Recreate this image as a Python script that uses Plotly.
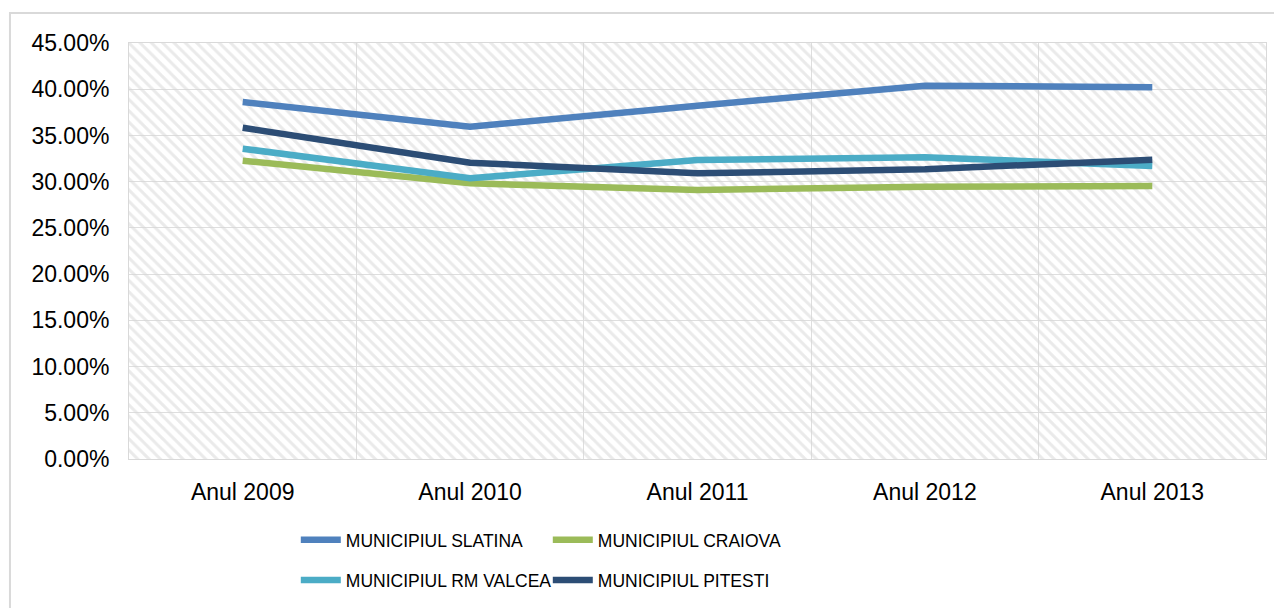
import plotly.graph_objects as go

years = ['Anul 2009', 'Anul 2010', 'Anul 2011', 'Anul 2012', 'Anul 2013']

slatina = [0.3862, 0.3594, 0.3822, 0.4038, 0.4021]
craiova = [0.3227, 0.2982, 0.2910, 0.2946, 0.2953]
rm_valcea = [0.3357, 0.3036, 0.3234, 0.3264, 0.3169]
pitesti = [0.3584, 0.3205, 0.3090, 0.3134, 0.3238]

y_max = 0.45

series = [
    ('MUNICIPIUL SLATINA', slatina, '#4f81bd', 'legend'),
    ('MUNICIPIUL CRAIOVA', craiova, '#9bbb59', 'legend'),
    ('MUNICIPIUL RM VALCEA', rm_valcea, '#4bacc6', 'legend2'),
    ('MUNICIPIUL PITESTI', pitesti, '#2c4d75', 'legend2'),
]

fig = go.Figure()

# hatched plot background (excel style pattern fill)
fig.add_trace(go.Bar(
    x=years, y=[y_max] * len(years), width=1,
    marker=dict(color='rgba(0,0,0,0)', line_width=0,
                pattern=dict(shape='\\', fgcolor='#d6d6d6', bgcolor='rgba(0,0,0,0)',
                             size=8, solidity=0.38)),
    showlegend=False, hoverinfo='skip',
))

for name, vals, color, leg in series:
    fig.add_trace(go.Scatter(
        x=years, y=vals, name=name, mode='lines',
        line=dict(color=color, width=6.5),
        legend=leg,
    ))

# page body has an 8px margin; the figure is made taller than the window so the
# legends do not push the bottom margin (the overflow is simply cut off)
legend_font = dict(family='Liberation Sans, Arial, sans-serif', size=17.5, color='#000000')
legend_common = dict(orientation='h', x=0.1467, xanchor='left', yanchor='middle',
                     entrywidth=197, entrywidthmode='pixels', itemwidth=40,
                     font=legend_font, bgcolor='rgba(0,0,0,0)')
fig.update_layout(
    width=1274, height=630,
    margin=dict(l=121, r=16, t=35, b=179),
    paper_bgcolor='white', plot_bgcolor='white',
    font=dict(family='Liberation Sans, Arial, sans-serif', size=23, color='#000000'),
    bargap=0,
    legend=dict(y=-0.1947, **legend_common),
    legend2=dict(y=-0.2909, **legend_common),
    shapes=[dict(type='rect', xref='paper', yref='paper',
                 x0=-0.1047, x1=1.03, y0=-0.45, y1=1.072,
                 line=dict(color='#d9d9d9', width=2), layer='below')],
)

fig.update_xaxes(
    range=[-0.5, len(years) - 0.5], tickson='boundaries', ticks='',
    showgrid=True, gridcolor='#dedede', gridwidth=1,
    showline=True, linecolor='#d9d9d9', linewidth=1, mirror=True,
    ticklabelstandoff=12,
)
fig.update_yaxes(
    range=[0, y_max], dtick=0.05, tickformat='.2%',
    showgrid=True, gridcolor='#dedede', gridwidth=1,
    showline=True, linecolor='#d9d9d9', linewidth=1, mirror=True,
    zeroline=False, ticklabelstandoff=14,
)

fig.write_html('out.html')
